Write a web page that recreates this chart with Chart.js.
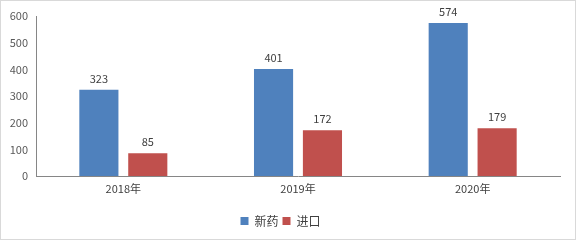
<!DOCTYPE html>
<html>
<head>
<meta charset="utf-8">
<script src="https://cdn.jsdelivr.net/npm/chart.js@4/dist/chart.umd.min.js"></script>
<style>
  html, body { margin: 0; padding: 0; background: #fff; }
  #frame { width: 576px; height: 240px; box-sizing: border-box; border: 1px solid #d9d9d9; background: #fff; }
  #wrap { position: relative; width: 574px; height: 238px; }
</style>
</head>
<body>
<div id="frame"><div id="wrap"><canvas id="c"></canvas></div></div>
<script>
// Yearly counts: new drugs vs. imported drugs
const years = ['2018年', '2019年', '2020年'];
const newDrugs = [323, 401, 574];
const imported = [85, 172, 179];
const yTicks = [0, 100, 200, 300, 400, 500, 600];

const FONT = "'Noto Sans CJK SC', 'Liberation Sans', sans-serif";

// Writes each bar's value just above it
const valueLabels = {
  id: 'valueLabels',
  afterDatasetsDraw(chart) {
    const ctx = chart.ctx;
    ctx.save();
    ctx.font = '11px ' + FONT;
    ctx.fillStyle = '#404040';
    ctx.textAlign = 'center';
    ctx.textBaseline = 'bottom';
    chart.data.datasets.forEach((ds, i) => {
      chart.getDatasetMeta(i).data.forEach((bar, j) => {
        ctx.fillText(String(ds.data[j]), bar.x, bar.y - 6);
      });
    });
    ctx.restore();
  }
};

new Chart(document.getElementById('c'), {
  type: 'bar',
  data: {
    labels: years,
    datasets: [
      { label: '新药', data: newDrugs, backgroundColor: '#4f81bd', barPercentage: 0.8, categoryPercentage: 0.56 },
      { label: '进口', data: imported, backgroundColor: '#c0504d', barPercentage: 0.8, categoryPercentage: 0.56 }
    ]
  },
  options: {
    responsive: true,
    maintainAspectRatio: false,
    animation: false,
    layout: { padding: { top: 15, right: 15, left: 0, bottom: 2 } },
    plugins: {
      tooltip: { enabled: false },
      legend: {
        position: 'bottom',
        labels: {
          boxWidth: 8, boxHeight: 8, padding: 4,
          color: '#404040',
          font: { family: FONT, size: 12 }
        }
      }
    },
    scales: {
      x: {
        grid: { display: false, drawTicks: false },
        border: { display: true, color: '#868686', width: 1 },
        ticks: { color: '#404040', padding: 6, font: { family: FONT, size: 11 } },
        afterFit(s) { s.height = 35; }
      },
      y: {
        min: 0, max: 600,
        afterBuildTicks(s) { s.ticks = yTicks.map(v => ({ value: v })); },
        grid: { display: false, drawTicks: false },
        border: { display: true, color: '#868686', width: 1 },
        ticks: { color: '#595959', padding: 8, font: { family: FONT, size: 11 } },
        afterFit(s) { s.width = 35; }
      }
    }
  },
  plugins: [valueLabels]
});
</script>
</body>
</html>
